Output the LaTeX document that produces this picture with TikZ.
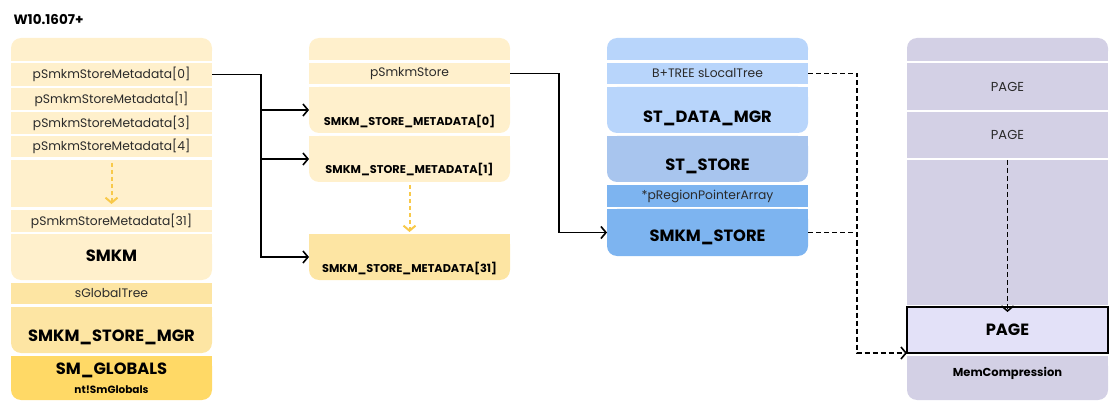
\documentclass[tikz,border=0pt]{standalone}
\usepackage{fontspec}
\setmainfont{Poppins}
\usetikzlibrary{arrows.meta}
\definecolor{yla}{HTML}{FFF0CC}
\definecolor{ylb}{HTML}{FDE5A3}
\definecolor{ylc}{HTML}{FFD966}
\definecolor{yarr}{HTML}{F8C94A}
\definecolor{bla}{HTML}{B8D5FB}
\definecolor{blb}{HTML}{A8C5EE}
\definecolor{blc}{HTML}{7DB4F0}
\definecolor{pua}{HTML}{D3D0E5}
\definecolor{pub}{HTML}{E3E1F8}
\definecolor{txtg}{HTML}{2A2A2A}
\newcommand\sqcell[5]{\node[cell=#2, minimum height={#5-#4}] (#1) at (#3,#4) {};}
\newcommand\rbcell[5]{\fill[#2] (#3,#4) rectangle ({#3+201},{(#4+#5)/2});
  \node[cell=#2, rounded corners=10, minimum height={#5-#4}] (#1) at (#3,#4) {};}
\newcommand\rtcell[5]{\fill[#2] (#3,{(#4+#5)/2}) rectangle ({#3+201},#5);
  \node[cell=#2, rounded corners=10, minimum height={#5-#4}] (#1) at (#3,#4) {};}
\begin{document}
\begin{tikzpicture}[x=1pt,y=-1pt,
  cell/.style={fill=#1, minimum width=201, inner sep=0, outer sep=0, anchor=north west},
  rowtxt/.style={font=\fontsize{12.3}{14}\selectfont, text=txtg},
  pagetxt/.style={font=\fontsize{13}{15}\selectfont, text=txtg},
  bigtxt/.style={font=\fontsize{16.3}{18}\selectfont\bfseries},
  midtxt/.style={font=\fontsize{11.3}{13}\selectfont\bfseries},
  smtxt/.style={font=\fontsize{10.5}{12}\selectfont\bfseries},
  conn/.style={line width=1.6, -{Straight Barb[length=5,width=12,line width=1.6]}},
  dline/.style={line width=1.6, dash pattern=on 5 off 3},
  dconn/.style={conn, dash pattern=on 5 off 3},
  ydash/.style={draw=yarr, line width=2, dash pattern=on 4 off 3, -{Straight Barb[length=5,width=12,line width=2]}}]
\useasboundingbox (0,0) rectangle (1112,401);

\node[anchor=west, font=\fontsize{13.5}{15}\selectfont\bfseries] (title) at (10,20) {W10.1607+};

% column 1
\rtcell{h1}{yla}{11}{38}{61}
\sqcell{r0}{yla}{11}{63}{86}
\sqcell{r1}{yla}{11}{88}{110}
\sqcell{r3}{yla}{11}{112}{134}
\sqcell{r4}{yla}{11}{136}{157}
\sqcell{g1}{yla}{11}{160}{207}
\sqcell{r31}{yla}{11}{210}{232}
\rbcell{smkm}{yla}{11}{234}{280}
\sqcell{sgt}{ylb}{11}{283}{304}
\rbcell{mgr}{ylb}{11}{307}{353}
\rbcell{smg}{ylc}{11}{356}{400}
\node[rowtxt] (t0) at (r0) {pSmkmStoreMetadata[0]};
\node[rowtxt] (t1) at (r1) {pSmkmStoreMetadata[1]};
\node[rowtxt] (t3) at (r3) {pSmkmStoreMetadata[3]};
\node[rowtxt] (t4) at (r4) {pSmkmStoreMetadata[4]};
\node[rowtxt] (t31) at (r31) {pSmkmStoreMetadata[31]};
\node[bigtxt] (tsmkm) at (111.5,256) {SMKM};
\node[rowtxt] (tsgt) at (sgt) {sGlobalTree};
\node[bigtxt] (tmgr) at (111.5,337) {SMKM\_STORE\_MGR};
\node[bigtxt] (tsmg) at (111.5,370) {SM\_GLOBALS};
\node[smtxt] (tsmg2) at (111.5,390) {nt!SmGlobals};
\draw[ydash] ([yshift=-3]g1.north) -- ([yshift=3]g1.south);

% column 2
\rtcell{h2}{yla}{309}{38}{60}
\sqcell{pss}{yla}{309}{63}{84}
\rbcell{m0}{yla}{309}{87}{133}
\rbcell{m1}{yla}{309}{136}{182}
\rbcell{m31}{ylb}{309}{234}{280}
\node[rowtxt] (tpss) at (pss) {pSmkmStore};
\node[midtxt] (tm0) at (409.5,122) {SMKM\_STORE\_METADATA[0]};
\node[midtxt] (tm1) at (409.5,170) {SMKM\_STORE\_METADATA[1]};
\node[midtxt] (tm31) at (409.5,269) {SMKM\_STORE\_METADATA[31]};
\draw[ydash] ([yshift=-3]m1.south) -- ([yshift=2]m31.north);

% column 3
\rtcell{h3}{bla}{607}{38}{60}
\sqcell{blt}{bla}{607}{63}{84}
\rbcell{dmgr}{bla}{607}{87}{133}
\rbcell{ststore}{blb}{607}{136}{182}
\sqcell{rpa}{blc}{607}{185}{207}
\rbcell{sst}{blc}{607}{209}{256}
\node[rowtxt] (tblt) at (blt) {B+TREE sLocalTree};
\node[bigtxt] (tdmgr) at (707.5,118) {ST\_DATA\_MGR};
\node[bigtxt] (tststore) at (707.5,166) {ST\_STORE};
\node[rowtxt] (trpa) at (rpa) {*pRegionPointerArray};
\node[bigtxt] (tsst) at (707.5,237) {SMKM\_STORE};

% column 4
\rtcell{h4}{pua}{907}{38}{61}
\sqcell{pg1}{pua}{907}{63}{110}
\sqcell{pg2}{pua}{907}{112}{158}
\sqcell{g4}{pua}{907}{160}{305}
\rbcell{memc}{pua}{907}{356}{400}
\node[cell=pub, draw=black, line width=2, minimum height=46] (hl) at (907,307) {};
\node[pagetxt] (tpg1) at (pg1) {PAGE};
\node[pagetxt] (tpg2) at (pg2) {PAGE};
\node[bigtxt] (thl) at (hl) {PAGE};
\node[smtxt, font=\fontsize{11.5}{13}\selectfont\bfseries] (tmemc) at (1007.5,373) {MemCompression};

% connectors
\coordinate (ja) at (261,0);
\coordinate (jb) at (559,0);
\coordinate (jc) at (857,0);
\draw[line width=1.6] (r0.east) -| (ja |- m0.west);
\draw[conn] (ja |- m0.west) -- (m0.west);
\draw[conn] (ja |- m0.west) |- (m1.west);
\draw[conn] (ja |- m1.west) |- (m31.west);
\draw[conn] (pss.east) -| (jb |- sst.west) -- (sst.west);
\draw[dconn] (blt.east) -| (jc |- hl.south west) -- (hl.south west);
\draw[dline] (sst.east) -- (jc |- sst.east);
\draw[dconn] (pg2.south) ++(0,2) -- ([yshift=-5]hl.north);
\end{tikzpicture}
\end{document}
